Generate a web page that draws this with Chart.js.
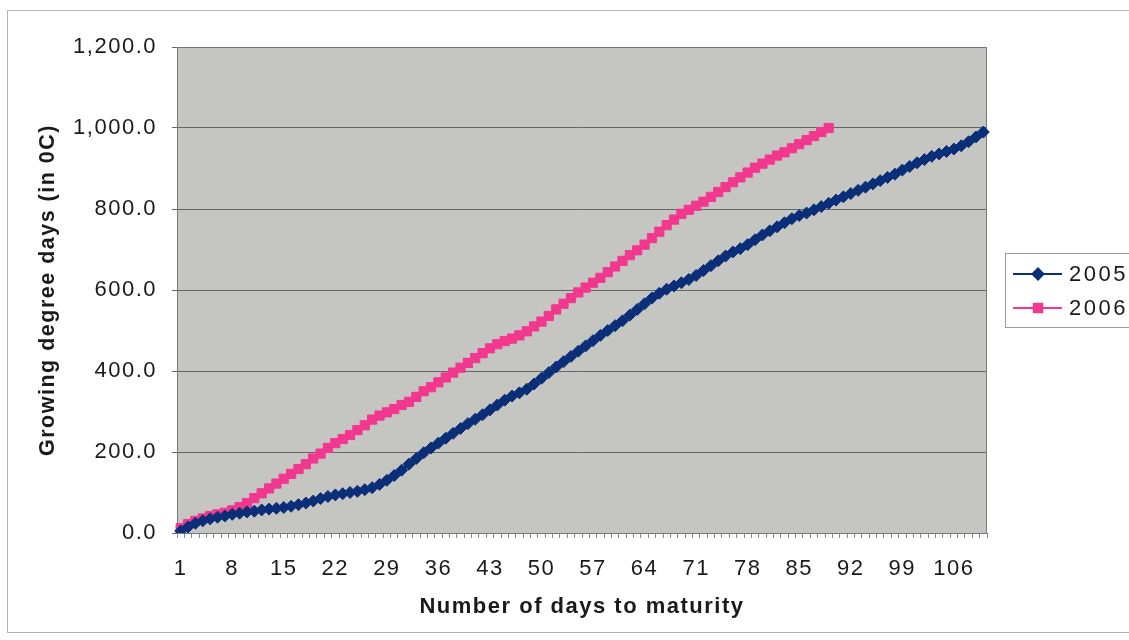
<!DOCTYPE html>
<html>
<head>
<meta charset="utf-8">
<title>Growing degree days</title>
<script src="https://cdn.jsdelivr.net/npm/chart.js@4.4.1/dist/chart.umd.min.js"></script>
<style>
  html, body { margin: 0; padding: 0; background: #ffffff; }
  #wrap { width: 1129px; height: 640px; position: relative; }
</style>
</head>
<body>
<div id="wrap"><canvas id="chart" width="1129" height="640"></canvas></div>
<script>
// Day index along the season (category axis)
const days = [];
for (let d = 1; d <= 110; d++) days.push(String(d));

// Cumulative growing degree days, 2005 season
const gdd2005 = [
  5, 15, 24, 30, 35, 39, 42, 46, 49, 52,
  54, 57, 59, 61, 63, 66, 70, 74, 79, 85,
  90, 94, 97, 100, 103, 107, 112, 120, 130, 142,
  155, 170, 184, 198, 210, 222, 234, 246, 258, 270,
  281, 292, 304, 316, 328, 338, 346, 355, 368, 382,
  396, 410, 423, 436, 449, 462, 475, 488, 500, 512,
  524, 538, 552, 566, 580, 592, 602, 610, 618, 626,
  636, 648, 660, 672, 684, 694, 702, 712, 724, 736,
  746, 756, 766, 776, 784, 790, 798, 806, 814, 822,
  830, 838, 846, 854, 862, 870, 878, 886, 896, 905,
  914, 922, 930, 936, 942, 948, 956, 966, 978, 990
];

// Cumulative growing degree days, 2006 season
const gdd2006 = [
  12, 22, 30, 36, 42, 46, 50, 56, 64, 74,
  86, 98, 110, 122, 134, 146, 158, 170, 184, 196,
  210, 222, 232, 242, 254, 266, 280, 290, 298, 306,
  316, 324, 336, 350, 360, 372, 384, 396, 408, 420,
  432, 444, 456, 466, 474, 480, 488, 498, 510, 522,
  536, 552, 566, 580, 594, 606, 618, 630, 644, 658,
  672, 686, 698, 712, 728, 744, 760, 774, 788, 798,
  808, 818, 830, 842, 854, 866, 878, 890, 902, 912,
  922, 932, 940, 950, 960, 970, 980, 990, 1000
];

const seriesNames = ['2005', '2006'];
const yMin = 0, yMax = 1200, yStep = 200;
const labelEvery = 7;

const FONT = "'Liberation Sans', Arial, sans-serif";
const TEXT = '#1a1a1a';

// Grey plot area, its frame and the outer chart frame
const framePlugin = {
  id: 'frames',
  beforeDraw(chart) {
    const { ctx, chartArea: a } = chart;
    ctx.save();
    ctx.fillStyle = '#ffffff';
    ctx.fillRect(0, 0, chart.width, chart.height);
    ctx.strokeStyle = '#b4b4b4';
    ctx.lineWidth = 1;
    ctx.strokeRect(7.5, 10.5, chart.width + 10, 622);
    ctx.fillStyle = '#c5c6c1';
    ctx.fillRect(a.left, a.top, a.right - a.left, a.bottom - a.top);
    ctx.restore();
    ctx.letterSpacing = '1.5px';
  },
  beforeDatasetsDraw(chart) {
    const { ctx, chartArea: a } = chart;
    ctx.save();
    ctx.strokeStyle = '#777777';
    ctx.lineWidth = 1;
    ctx.strokeRect(Math.round(a.left) + 0.5, Math.round(a.top) + 0.5,
                   Math.round(a.right - a.left) - 1, Math.round(a.bottom - a.top));
    ctx.restore();
  }
};

// Boxed legend to the right of the plot: line with marker, then the year
const legendPlugin = {
  id: 'boxLegend',
  afterDraw(chart) {
    const ctx = chart.ctx;
    ctx.save();
    ctx.fillStyle = '#ffffff';
    ctx.strokeStyle = '#9a9a9a';
    ctx.lineWidth = 1;
    ctx.fillRect(1005.5, 253.5, 140, 74);
    ctx.strokeRect(1005.5, 253.5, 140, 74);
    chart.data.datasets.forEach((ds, i) => {
      const y = 274 + i * 34;
      ctx.strokeStyle = ds.borderColor;
      ctx.lineWidth = 2;
      ctx.beginPath();
      ctx.moveTo(1013, y);
      ctx.lineTo(1062, y);
      ctx.stroke();
      ctx.fillStyle = ds.pointBackgroundColor;
      ctx.strokeStyle = ds.borderColor;
      Chart.helpers.drawPoint(ctx, {
        pointStyle: ds.pointStyle, radius: ds.pointRadius - 0.5,
        rotation: 0, borderWidth: 1
      }, 1038, y);
      ctx.fillStyle = TEXT;
      ctx.font = '22px ' + FONT;
      ctx.letterSpacing = '2.5px';
      ctx.textAlign = 'left';
      ctx.textBaseline = 'middle';
      ctx.fillText(ds.label, 1069, y + 1);
    });
    ctx.restore();
  }
};

new Chart(document.getElementById('chart'), {
  type: 'line',
  data: {
    labels: days,
    datasets: [
      {
        label: seriesNames[0],
        data: gdd2005,
        borderColor: '#0a2f78',
        backgroundColor: '#0a2f78',
        pointBackgroundColor: '#0a2f78',
        borderWidth: 3,
        pointStyle: 'rectRot',
        pointRadius: 6,
        pointBorderWidth: 1,
        tension: 0
      },
      {
        label: seriesNames[1],
        data: gdd2006,
        borderColor: '#f2388e',
        backgroundColor: '#f2388e',
        pointBackgroundColor: '#f2388e',
        borderWidth: 3,
        pointStyle: 'rect',
        pointRadius: 6.5,
        pointBorderWidth: 1,
        tension: 0
      }
    ]
  },
  options: {
    responsive: false,
    animation: false,
    devicePixelRatio: 1,
    layout: { padding: { left: 0, right: 142, top: 47, bottom: 0 } },
    plugins: {
      legend: { display: false },
      tooltip: { enabled: false }
    },
    scales: {
      x: {
        type: 'category',
        offset: true,
        grid: {
          offset: true,
          drawOnChartArea: false,
          drawTicks: true,
          tickLength: 5,
          color: '#8a8a8a'
        },
        border: { display: true, color: '#666666' },
        ticks: {
          autoSkip: false,
          maxRotation: 0,
          minRotation: 0,
          padding: 18,
          color: TEXT,
          font: { family: FONT, size: 22 },
          callback: (v, i) => (i % labelEvery === 0 ? days[i] : '')
        },
        title: {
          display: true,
          text: 'Number of days to maturity',
          color: TEXT,
          font: { family: FONT, size: 22, weight: 'bold' },
          padding: { top: 0, bottom: 20 }
        },
        afterFit(scale) { scale.height = 107; }
      },
      y: {
        min: yMin,
        max: yMax,
        grid: {
          color: '#666666',
          lineWidth: 1,
          drawTicks: true,
          tickLength: 5
        },
        border: { display: true, color: '#666666' },
        ticks: {
          stepSize: yStep,
          padding: 15,
          color: TEXT,
          font: { family: FONT, size: 22 },
          callback: v => Number(v).toLocaleString('en-US', { minimumFractionDigits: 1, maximumFractionDigits: 1 })
        },
        title: {
          display: true,
          text: 'Growing degree days (in 0C)',
          color: TEXT,
          font: { family: FONT, size: 21.5, weight: 'bold' },
          padding: { top: 35, bottom: 0 }
        },
        afterFit(scale) { scale.width = 177; }
      }
    }
  },
  plugins: [framePlugin, legendPlugin]
});
</script>
</body>
</html>
